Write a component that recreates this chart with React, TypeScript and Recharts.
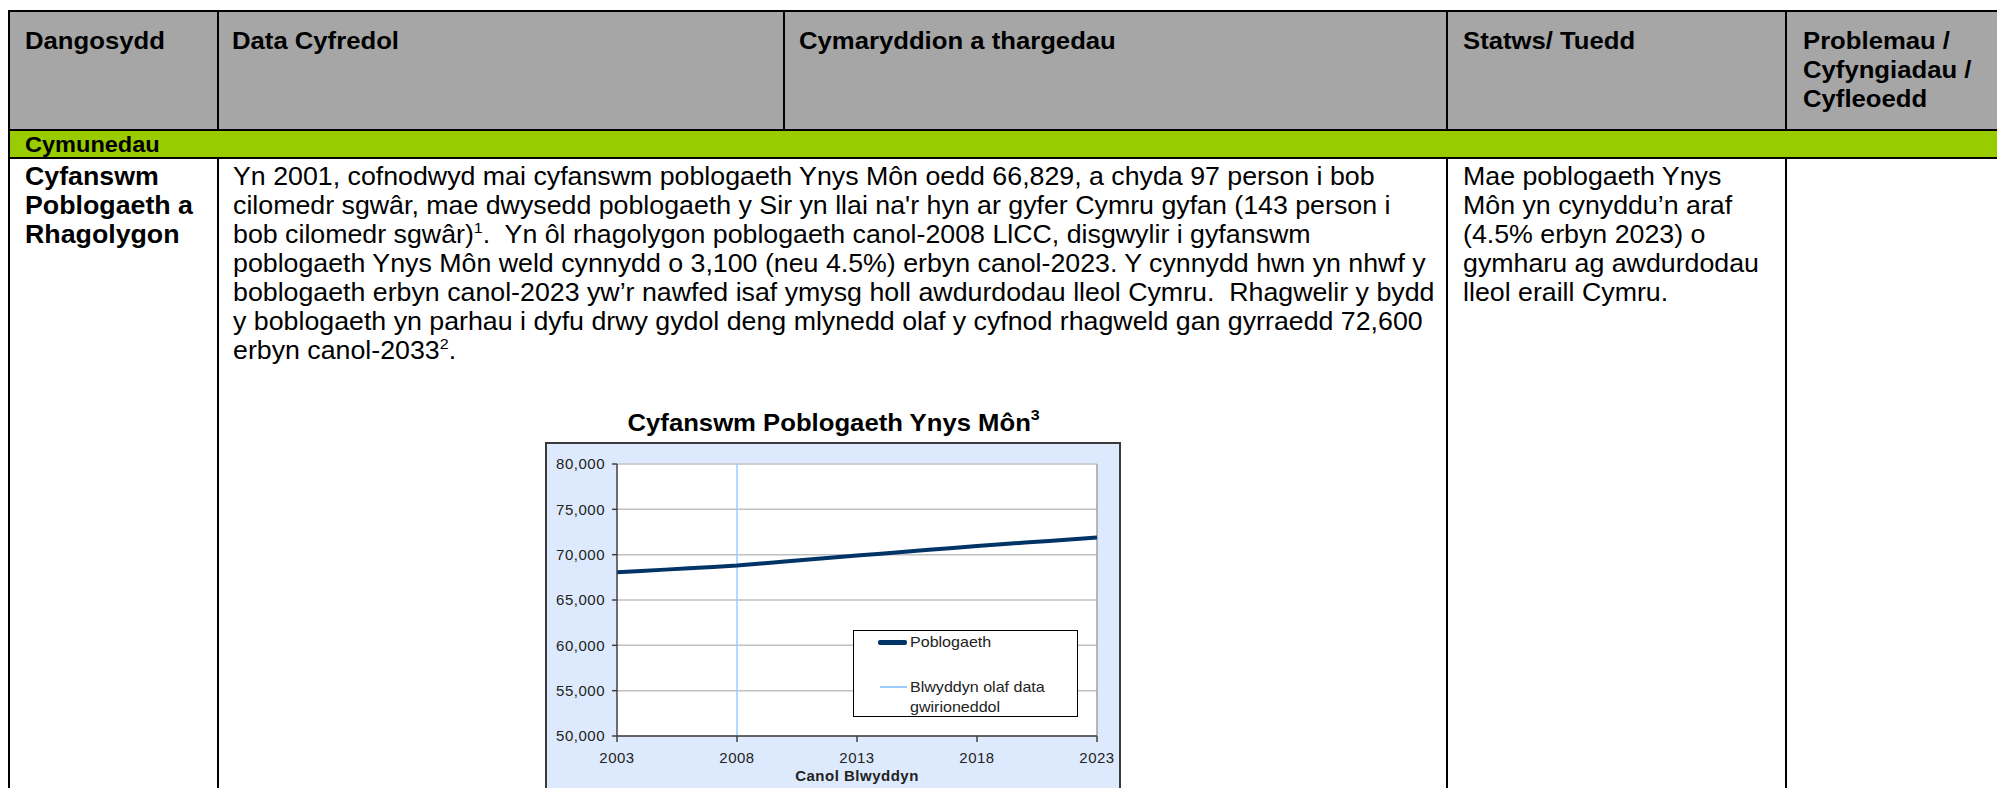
import React from 'react';
import {
  LineChart,
  Line,
  XAxis,
  YAxis,
  CartesianGrid,
  ReferenceLine,
} from 'recharts';

// chart data
const years = [2003, 2004, 2005, 2006, 2007, 2008, 2009, 2010, 2011, 2012, 2013, 2014, 2015, 2016, 2017, 2018, 2019, 2020, 2021, 2022, 2023];
const population = [68050, 68200, 68350, 68500, 68650, 68800, 69020, 69240, 69460, 69680, 69900, 70110, 70320, 70530, 70740, 70950, 71140, 71330, 71520, 71710, 71900];
const xTicks = [2003, 2008, 2013, 2018, 2023];
const yTicks = [50000, 55000, 60000, 65000, 70000, 75000, 80000];
const lastActualYear = 2008;

const chartTitle = 'Cyfanswm Poblogaeth Ynys Môn';
const xAxisTitle = 'Canol Blwyddyn';
const seriesName = 'Poblogaeth';
const refLineName = ['Blwyddyn olaf data', 'gwirioneddol'];

// table text
const headerCells = [
  { x: 25, lines: ['Dangosydd'] },
  { x: 232, lines: ['Data Cyfredol'] },
  { x: 799, lines: ['Cymaryddion a thargedau'] },
  { x: 1463, lines: ['Statws/ Tuedd'] },
  { x: 1803, lines: ['Problemau /', 'Cyfyngiadau /', 'Cyfleoedd'] },
];
const sectionLabel = 'Cymunedau';
const indicatorLines = ['Cyfanswm', 'Poblogaeth a', 'Rhagolygon'];
const dataLines: { text: string; sup?: string; rest?: string }[] = [
  { text: 'Yn 2001, cofnodwyd mai cyfanswm poblogaeth Ynys Môn oedd 66,829, a chyda 97 person i bob' },
  { text: "cilomedr sgwâr, mae dwysedd poblogaeth y Sir yn llai na'r hyn ar gyfer Cymru gyfan (143 person i" },
  { text: 'bob cilomedr sgwâr)', sup: '1', rest: '.  Yn ôl rhagolygon poblogaeth canol-2008 LlCC, disgwylir i gyfanswm' },
  { text: 'poblogaeth Ynys Môn weld cynnydd o 3,100 (neu 4.5%) erbyn canol-2023. Y cynnydd hwn yn nhwf y' },
  { text: 'boblogaeth erbyn canol-2023 yw’r nawfed isaf ymysg holl awdurdodau lleol Cymru.  Rhagwelir y bydd' },
  { text: 'y boblogaeth yn parhau i dyfu drwy gydol deng mlynedd olaf y cyfnod rhagweld gan gyrraedd 72,600' },
  { text: 'erbyn canol-2033', sup: '2', rest: '.' },
];
const statusLines = ['Mae poblogaeth Ynys', 'Môn yn cynyddu’n araf', '(4.5% erbyn 2023) o', 'gymharu ag awdurdodau', 'lleol eraill Cymru.'];

const data = years.map((year, i) => ({ year, pop: population[i] }));

const FONT = '"Liberation Sans", Arial, sans-serif';
const NAVY = '#003366';
const REF_BLUE = '#99CCFF';
const STRETCH = 'scaleX(1.07)';

const abs = (left: number, top: number, width: number, height: number, bg: string): React.CSSProperties => ({
  position: 'absolute',
  left,
  top,
  width,
  height,
  background: bg,
});

const textBlock = (left: number, top: number, size: number, bold: boolean): React.CSSProperties => ({
  position: 'absolute',
  left,
  top,
  fontFamily: FONT,
  fontSize: size,
  fontWeight: bold ? 'bold' : 'normal',
  lineHeight: '29px',
  whiteSpace: 'pre',
  color: '#000',
  transform: STRETCH,
  transformOrigin: 'left top',
});

const supStyle: React.CSSProperties = {
  fontSize: 15,
  position: 'relative',
  top: -10,
  lineHeight: 0,
};

const App: React.FC = () => {
  return (
    <div style={{ position: 'absolute', left: 0, top: 0, width: 1997, height: 788, overflow: 'hidden', background: '#fff' }}>
      {/* header + section row backgrounds */}
      <div style={abs(9, 11, 1988, 119, '#A6A6A6')} />
      <div style={abs(9, 131, 1988, 27, '#99CC00')} />

      {/* table rules */}
      <div style={abs(8, 10, 1989, 2, '#000')} />
      <div style={abs(8, 129, 1989, 2, '#000')} />
      <div style={abs(8, 157, 1989, 2, '#000')} />
      <div style={abs(8, 10, 2, 778, '#000')} />
      <div style={abs(217, 10, 2, 120, '#000')} />
      <div style={abs(217, 158, 2, 630, '#000')} />
      <div style={abs(783, 10, 2, 120, '#000')} />
      <div style={abs(1446, 10, 2, 120, '#000')} />
      <div style={abs(1446, 158, 2, 630, '#000')} />
      <div style={abs(1785, 10, 2, 120, '#000')} />
      <div style={abs(1785, 158, 2, 630, '#000')} />

      {headerCells.map((c) => (
        <div key={c.x} style={textBlock(c.x, 26, 24, true)}>
          {c.lines.map((l) => (
            <div key={l}>{l}</div>
          ))}
        </div>
      ))}

      <div style={{ ...textBlock(25, 132, 22, true), lineHeight: '26px' }}>{sectionLabel}</div>

      <div style={textBlock(25, 162, 25, true)}>
        {indicatorLines.map((l) => (
          <div key={l}>{l}</div>
        ))}
      </div>

      <div style={textBlock(233, 162, 25, false)}>
        {dataLines.map((l, i) => (
          <div key={i}>
            {l.text}
            {l.sup && <span style={supStyle}>{l.sup}</span>}
            {l.rest}
          </div>
        ))}
      </div>

      <div style={textBlock(1463, 162, 25, false)}>
        {statusLines.map((l) => (
          <div key={l}>{l}</div>
        ))}
      </div>

      {/* chart title */}
      <div
        style={{
          position: 'absolute',
          left: 546,
          top: 408,
          width: 575,
          textAlign: 'center',
          fontFamily: FONT,
          fontSize: 24,
          fontWeight: 'bold',
          lineHeight: '29px',
          whiteSpace: 'pre',
        }}
      >
        <span style={{ display: 'inline-block', transform: STRETCH, transformOrigin: 'center top' }}>
          {chartTitle}
          <span style={{ ...supStyle, fontSize: 15, top: -11 }}>3</span>
        </span>
      </div>

      {/* chart area */}
      <div
        style={{
          position: 'absolute',
          left: 545,
          top: 442,
          width: 572,
          height: 360,
          border: '2px solid #3a3a3a',
          background: '#DDEAFD',
        }}
      >
        <LineChart width={572} height={350} data={data} margin={{ top: 20, right: 22, left: 0, bottom: 13 }}>
          <CartesianGrid vertical={false} stroke="#C0C0C0" strokeWidth={1.5} fill="#fff" fillOpacity={1} />
          <XAxis
            dataKey="year"
            type="number"
            domain={[2003, 2023]}
            ticks={xTicks}
            height={45}
            tickSize={6}
            tickMargin={10}
            tick={{ fill: '#222', fontSize: 15, fontFamily: FONT, letterSpacing: 0.5 }}
            axisLine={{ stroke: '#404040', strokeWidth: 1.5 }}
            tickLine={{ stroke: '#404040', strokeWidth: 1.5 }}
            label={{ value: xAxisTitle, position: 'insideBottom', offset: 0, fill: '#222', fontSize: 15, fontWeight: 'bold', fontFamily: FONT, letterSpacing: 0.5 }}
          />
          <YAxis
            type="number"
            domain={[50000, 80000]}
            ticks={yTicks}
            width={70}
            tickSize={5}
            tickMargin={7}
            tickFormatter={(v: number) => v.toLocaleString('en-US')}
            tick={{ fill: '#222', fontSize: 15, fontFamily: FONT, letterSpacing: 0.5 }}
            axisLine={{ stroke: '#404040', strokeWidth: 1.5 }}
            tickLine={{ stroke: '#404040', strokeWidth: 1.5 }}
          />
          <ReferenceLine x={2023} stroke="#A0A0A0" strokeWidth={1.5} />
          <ReferenceLine x={lastActualYear} stroke={REF_BLUE} strokeWidth={1.5} />
          <Line
            type="linear"
            dataKey="pop"
            name={seriesName}
            stroke={NAVY}
            strokeWidth={4}
            dot={false}
            isAnimationActive={false}
          />
        </LineChart>
      </div>

      {/* legend */}
      <div
        style={{
          position: 'absolute',
          left: 853,
          top: 630,
          width: 223,
          height: 85,
          border: '1.5px solid #000',
          background: '#fff',
          fontFamily: FONT,
          fontSize: 15,
          color: '#222',
        }}
      >
        <div style={{ position: 'absolute', left: 24, top: 9, width: 29, height: 5, borderRadius: 2, background: NAVY }} />
        <div style={{ position: 'absolute', left: 56, top: 1, lineHeight: '20px', transform: STRETCH, transformOrigin: 'left top' }}>
          {seriesName}
        </div>
        <div style={{ position: 'absolute', left: 26, top: 55, width: 27, height: 1.5, background: REF_BLUE }} />
        <div style={{ position: 'absolute', left: 56, top: 46, lineHeight: '20px', transform: STRETCH, transformOrigin: 'left top' }}>
          {refLineName.map((l) => (
            <div key={l}>{l}</div>
          ))}
        </div>
      </div>
    </div>
  );
};

export default App;
